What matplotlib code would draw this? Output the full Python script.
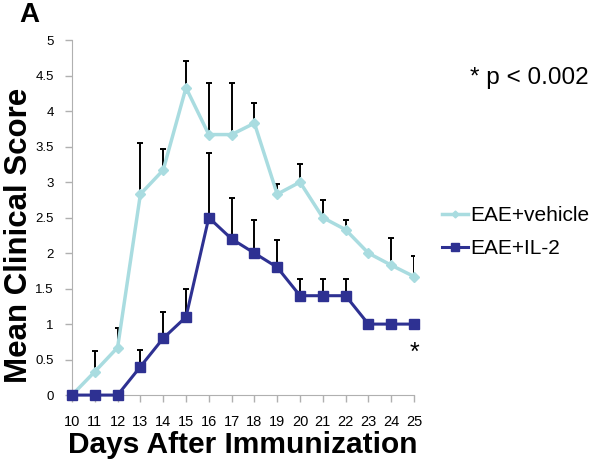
import numpy as np
import matplotlib
matplotlib.use('Agg')
import matplotlib.pyplot as plt

plt.rcParams['font.family'] = ['Liberation Sans', 'DejaVu Sans']

# Data
days = list(range(10, 26))
vehicle = [0, 0.33, 0.67, 2.83, 3.17, 4.33, 3.67, 3.67, 3.83, 2.83, 3.0, 2.5, 2.33, 2.0, 1.83, 1.67]
vehicle_err = [0, 0.29, 0.28, 0.72, 0.29, 0.38, 0.73, 0.73, 0.29, 0.14, 0.25, 0.25, 0.14, 0, 0.38, 0.29]
il2 = [0, 0, 0, 0.4, 0.8, 1.1, 2.5, 2.2, 2.0, 1.8, 1.4, 1.4, 1.4, 1.0, 1.0, 1.0]
il2_err = [0, 0, 0, 0.24, 0.37, 0.4, 0.91, 0.57, 0.47, 0.38, 0.24, 0.24, 0.24, 0, 0, 0]

c_vehicle = '#A9DCE0'
c_il2 = '#2E3192'

fig = plt.figure(figsize=(6, 4.67), dpi=100)
ax = fig.add_axes([0.12, 0.154, 0.57, 0.76])

# Upper error bars only
for x, y, e in zip(days, vehicle, vehicle_err):
    if e > 0:
        ax.errorbar(x, y, yerr=[[0], [e]], color='black', lw=1.4, capsize=2.5, capthick=1.4, zorder=1)
for x, y, e in zip(days, il2, il2_err):
    if e > 0:
        ax.errorbar(x, y, yerr=[[0], [e]], color='black', lw=1.4, capsize=2.5, capthick=1.4, zorder=1)

ax.plot(days, vehicle, color=c_vehicle, lw=2.5, marker='D', ms=5, label='EAE+vehicle', clip_on=False, zorder=3)
ax.plot(days, il2, color=c_il2, lw=2.2, marker='s', ms=7.5, label='EAE+IL-2', clip_on=False, zorder=4)

ax.set_xlim(10, 25)
ax.set_ylim(0, 5)
ax.set_xticks(days)
ax.set_yticks(np.arange(0, 5.01, 0.5))
ax.set_yticklabels(['0', '0.5', '1', '1.5', '2', '2.5', '3', '3.5', '4', '4.5', '5'])
ax.tick_params(axis='both', color='#b0b0b0', width=1)
ax.tick_params(axis='x', labelsize=10.5, length=5, pad=9)
ax.tick_params(axis='y', labelsize=9.5, length=5, pad=8)
for s in ['top', 'right']:
    ax.spines[s].set_visible(False)
for s in ['left', 'bottom']:
    ax.spines[s].set_color('#b0b0b0')

ax.set_ylabel('Mean Clinical Score', fontsize=22.5, fontweight='bold')
ax.set_xlabel('Days After Immunization', fontsize=21.5, fontweight='bold')
ax.yaxis.set_label_coords(-0.112, 0.45)
ax.xaxis.set_label_coords(0.5, -0.1)

ax.text(25, 0.6, '*', fontsize=18, ha='center', va='center')
fig.text(0.033, 0.995, 'A', fontsize=20, fontweight='bold', va='top')
fig.text(0.783, 0.833, '* p < 0.002', fontsize=17.5, va='center')

fig.legend(loc='center left', bbox_to_anchor=(0.737, 0.503), frameon=False, fontsize=15,
           borderpad=0, borderaxespad=0, handlelength=1.25, handletextpad=0.1,
           labelspacing=0.67, markerscale=0.7)

fig.savefig('out.png', dpi=100)
